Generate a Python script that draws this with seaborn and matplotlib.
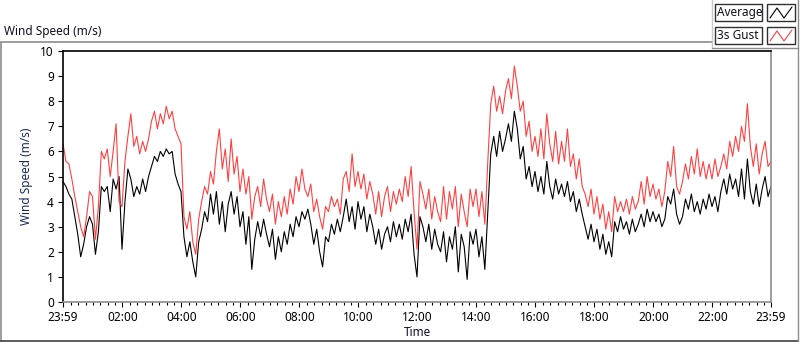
import numpy as np
import pandas as pd
import seaborn as sns
import matplotlib.pyplot as plt
from matplotlib.patches import Rectangle

# one sample every 6 minutes, from 23:59 to 23:59 next day (minutes since start)
STEP_MIN = 6
minutes = np.arange(0, 1441, STEP_MIN)

# Average wind speed (m/s), one row per hour
average = [
    4.8, 4.6, 4.3, 4.1, 3.4, 2.7, 1.8, 2.3, 3.0, 3.4,
    3.1, 1.9, 2.8, 4.6, 4.4, 4.6, 3.6, 4.9, 4.5, 5.0,
    2.1, 4.0, 5.3, 4.9, 4.2, 4.6, 4.3, 4.9, 4.4, 5.0,
    5.4, 5.8, 5.6, 6.0, 5.8, 6.1, 5.9, 6.0, 5.1, 4.7,
    4.4, 2.6, 1.8, 2.4, 1.6, 1.0, 2.4, 2.9, 3.6, 3.2,
    4.3, 3.5, 4.4, 3.1, 4.0, 2.8, 3.9, 4.4, 3.5, 4.2,
    3.0, 3.6, 2.3, 3.4, 1.3, 2.5, 3.2, 2.6, 3.3, 2.7,
    2.2, 2.9, 1.7, 2.6, 2.0, 2.8, 2.3, 3.1, 2.6, 3.4,
    3.0, 3.6, 3.3, 3.7, 3.1, 2.3, 2.9, 2.0, 1.4, 2.6,
    2.4, 3.1, 2.7, 3.3, 2.8, 3.4, 4.1, 3.2, 3.8, 2.9,
    4.0, 3.3, 3.8, 2.8, 3.5, 3.0, 2.3, 2.9, 2.1, 2.7,
    3.0, 2.4, 3.2, 2.6, 3.1, 2.5, 3.3, 2.8, 3.5, 1.9,
    1.0, 3.4, 3.0, 2.4, 3.1, 2.1, 2.9, 2.3, 2.0, 2.8,
    1.6, 2.6, 2.1, 3.0, 1.2, 2.7, 2.2, 0.9, 2.8, 2.3,
    2.9, 1.8, 2.6, 1.3, 3.6, 5.9, 6.6, 5.8, 6.8, 6.0,
    6.5, 7.1, 6.4, 7.6, 6.9, 5.7, 6.2, 4.9, 5.4, 4.6,
    5.2, 4.4, 5.0, 4.3, 5.6, 4.6, 4.1, 4.9, 4.3, 4.7,
    4.2, 4.8, 4.0, 4.4, 3.6, 4.1, 3.5, 3.0, 2.5, 3.1,
    2.4, 2.9, 2.1, 2.7, 1.9, 2.4, 1.8, 3.2, 2.8, 3.4,
    2.9, 3.2, 2.7, 3.3, 2.8, 3.1, 3.5, 3.0, 3.7, 3.2,
    3.6, 3.2, 3.5, 3.0, 3.3, 4.2, 3.9, 4.5, 3.5, 3.1,
    3.4, 4.1, 3.7, 4.3, 3.6, 4.0, 3.5, 4.1, 3.7, 4.3,
    3.8, 4.2, 3.6, 4.4, 4.9, 4.3, 5.1, 4.5, 4.9, 4.2,
    5.3, 4.1, 5.7, 4.4, 3.9, 4.7, 3.8, 4.5, 5.0, 4.2,
    4.6,
]

# 3 second gust (m/s)
gust = [
    6.3, 5.6, 5.5, 4.9, 4.2, 3.6, 3.0, 2.6, 3.4, 4.4,
    4.2, 2.5, 3.8, 6.0, 5.7, 6.1, 5.0, 6.0, 7.1, 4.0,
    3.8, 5.6, 6.6, 7.5, 6.2, 6.6, 5.9, 6.4, 6.0, 6.5,
    7.2, 7.6, 6.9, 7.5, 7.1, 7.8, 7.3, 7.6, 6.9, 6.6,
    6.3, 3.4, 2.9, 3.6, 2.4, 1.9, 3.3, 4.0, 4.6, 4.3,
    5.2, 4.7, 6.0, 6.9, 5.3, 6.1, 4.8, 6.5, 5.1, 5.8,
    4.4, 5.3, 4.3, 5.0, 3.3, 4.2, 4.6, 3.8, 4.9, 4.1,
    3.6, 4.3, 3.1, 4.0, 3.4, 4.2, 3.5, 4.5, 3.9, 5.0,
    4.4, 5.3, 4.5, 4.2, 4.7, 3.6, 4.1, 3.4, 2.9, 3.8,
    3.6, 4.2, 3.8, 4.1, 3.5, 4.9, 5.2, 4.4, 5.9, 4.6,
    5.2, 4.5, 5.1, 4.1, 4.8, 4.3, 3.5, 4.4, 3.4, 4.2,
    4.6, 3.6, 4.4, 3.9, 4.5, 4.0, 5.0, 4.2, 5.4, 3.6,
    2.1, 4.8, 4.3, 3.7, 4.5, 3.3, 4.2, 3.6, 3.2, 4.6,
    3.3, 4.4, 3.7, 4.6, 3.0, 4.3, 3.6, 3.0, 4.5, 3.8,
    4.5, 3.4, 4.4, 3.1, 5.6, 7.9, 8.6, 7.6, 8.2, 7.5,
    8.4, 8.9, 8.1, 9.4, 8.6, 7.6, 8.0, 6.6, 7.2, 6.0,
    6.6, 5.8, 6.9, 5.7, 7.5, 6.3, 5.6, 6.8, 5.5, 6.4,
    5.6, 6.9, 5.4, 5.9, 4.9, 5.7, 4.6, 4.3, 3.8, 4.5,
    3.5, 4.2, 3.3, 3.9, 2.9, 3.6, 2.8, 4.2, 3.6, 4.0,
    3.6, 4.1, 3.5, 4.2, 3.7, 4.0, 4.8, 3.9, 5.0, 4.2,
    4.7, 4.1, 4.5, 3.8, 4.4, 5.6, 5.0, 6.2, 4.6, 4.3,
    4.8, 5.5, 4.9, 5.8, 5.1, 6.1, 5.0, 5.6, 4.9, 5.5,
    4.9, 5.7, 5.0, 5.4, 5.9, 5.3, 6.4, 5.8, 6.6, 6.0,
    7.0, 6.4, 7.9, 6.2, 5.4, 6.3, 5.1, 5.9, 6.4, 5.4,
    5.6,
]

tick_pos = [0, 121, 241, 361, 481, 601, 721, 841, 961, 1081, 1201, 1321, 1440]
tick_labels = ['23:59', '02:00', '04:00', '06:00', '08:00', '10:00', '12:00',
               '14:00', '16:00', '18:00', '20:00', '22:00', '23:59']
series_names = ['Average', '3s Gust']
series_colors = ['#000000', '#ff4040']

df = pd.DataFrame({
    'minute': np.concatenate([minutes, minutes]),
    'speed': average + gust,
    'series': [series_names[0]] * len(minutes) + [series_names[1]] * len(minutes),
})

sns.set_style('white')
plt.rcParams['font.family'] = ['Noto Sans', 'DejaVu Sans']
plt.rcParams['font.size'] = 8

W, H = 800, 342
fig = plt.figure(figsize=(W / 100, H / 100), dpi=100)

# background overlay for the panel frame and legend (pixel coords)
bg = fig.add_axes([0, 0, 1, 1], zorder=0)
bg.set_xlim(0, W)
bg.set_ylim(H, 0)
bg.axis('off')
bg.plot([0.5, 712], [42, 42], color='#8c8c8c', lw=1.2)
bg.plot([0.5, 0.5], [42, 341], color='#8c8c8c', lw=1.2)
bg.plot([0, 798], [341, 341], color='#404040', lw=1.2)
bg.plot([712, 712], [0, 48], color='#c8c8c8', lw=1)
bg.plot([712, 798], [48, 48], color='#8c8c8c', lw=1)
bg.plot([797.5, 797.5], [0, 341], color='#8c8c8c', lw=1)

for i, (name, col) in enumerate(zip(series_names, series_colors)):
    y0 = 4 + i * 23
    bg.add_patch(Rectangle((715, y0), 47, 17, fill=False, ec='#303030', lw=1))
    bg.add_patch(Rectangle((767, y0), 28, 17, fill=False, ec='#303030', lw=1))
    bg.text(717, y0 + 8.5, name, ha='left', va='center', fontsize=8.5, color='#101020')
    bg.plot([770, 777, 784, 792], [y0 + 14, y0 + 4, y0 + 14, y0 + 3], color=col, lw=0.8)

fig.text(4 / W, 1 - 32 / H, 'Wind Speed (m/s)', ha='left', va='center', fontsize=8.5, color='#101020')

ax = fig.add_axes([63 / W, 40 / H, 708 / W, 251 / H], zorder=1)
sns.lineplot(data=df, x='minute', y='speed', hue='series', hue_order=series_names,
             palette=series_colors, estimator=None, sort=False, legend=False,
             linewidth=0.8, ax=ax)

ax.set_xlim(0, 1440)
ax.set_ylim(0, 10)
ax.set_yticks(range(0, 11))
ax.set_xticks(tick_pos)
ax.set_xticklabels(tick_labels)
ax.set_xticks([1 + 15 * k for k in range(1, 96)], minor=True)
ax.tick_params(axis='y', which='major', length=3.5, width=0.8, pad=3, labelsize=8.5,
               left=True, colors='black')
ax.tick_params(axis='x', which='major', length=3.5, width=0.8, pad=3, labelsize=8.5,
               bottom=True, colors='black')
ax.tick_params(axis='x', which='minor', length=2.2, width=0.8, bottom=True, colors='black')
ax.set_xlabel('Time', fontsize=8.5, color='#101030', va='center')
ax.set_ylabel('Wind Speed (m/s)', fontsize=8.5, color='#1a2a5e')
ax.yaxis.set_label_coords(-0.042, 0.5)
ax.xaxis.set_label_coords(0.5, -0.12)

for side in ['top', 'left']:
    ax.spines[side].set_color('black')
    ax.spines[side].set_linewidth(1.2)
for side in ['bottom', 'right']:
    ax.spines[side].set_color('#8c8c8c')
    ax.spines[side].set_linewidth(1.2)

fig.savefig('out.png', dpi=100)
